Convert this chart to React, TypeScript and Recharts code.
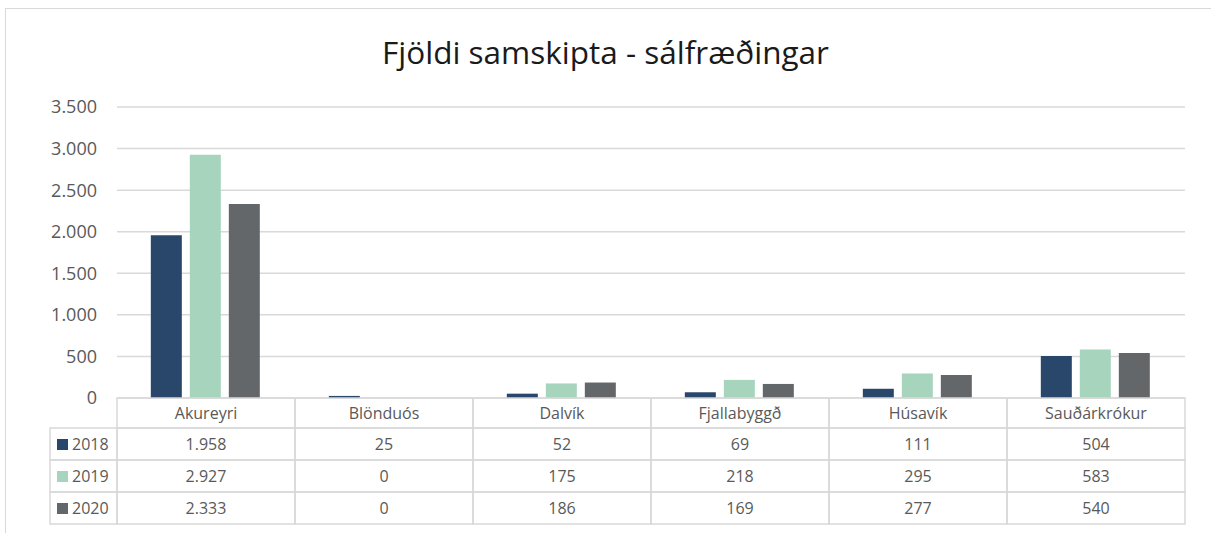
import { BarChart, Bar, XAxis, YAxis, CartesianGrid } from 'recharts'

const towns = ['Akureyri', 'Blönduós', 'Dalvík', 'Fjallabyggð', 'Húsavík', 'Sauðárkrókur']
const years = ['2018', '2019', '2020']
const values2018 = [1958, 25, 52, 69, 111, 504]
const values2019 = [2927, 0, 175, 218, 295, 583]
const values2020 = [2333, 0, 186, 169, 277, 540]
const yTicks = [0, 500, 1000, 1500, 2000, 2500, 3000, 3500]

const COLORS = ['#29466b', '#a7d4bd', '#63676a']
const FONT = '"Open Sans", Lato, sans-serif'
const GRID = '#d9d9d9'
const TEXT = '#595959'

const seriesValues = [values2018, values2019, values2020]
const data = towns.map((town, i) => ({
  town,
  y2018: values2018[i],
  y2019: values2019[i],
  y2020: values2020[i],
}))

const fmt = (v: number) => v.toLocaleString('de-DE')

const PLOT_LEFT = 117
const PLOT_RIGHT = 1185
const COL_W = (PLOT_RIGHT - PLOT_LEFT) / towns.length
const HEADER_H = 30
const ROW_H = 32
const LEGEND_LEFT = 50
const CELL_FONT = 16

function TableTick(props: any) {
  const { x, y, payload, index } = props
  const left = x - COL_W / 2
  const rows = seriesValues.map((vals, r) => {
    const top = y + HEADER_H + r * ROW_H
    return (
      <g key={r}>
        <rect x={left} y={top} width={COL_W} height={ROW_H} fill="none" stroke={GRID} strokeWidth={1.5} />
        <text x={x} y={top + ROW_H / 2 + 6} textAnchor="middle" fontSize={CELL_FONT} fill={TEXT} fontFamily={FONT}>
          {fmt(vals[index])}
        </text>
      </g>
    )
  })
  return (
    <g>
      <rect x={left} y={y} width={COL_W} height={HEADER_H} fill="none" stroke={GRID} strokeWidth={1.5} />
      <text x={x} y={y + HEADER_H / 2 + 6} textAnchor="middle" fontSize={CELL_FONT} fill={TEXT} fontFamily={FONT}>
        {payload.value}
      </text>
      {rows}
      {index === 0 &&
        years.map((yr, r) => {
          const top = y + HEADER_H + r * ROW_H
          return (
            <g key={yr}>
              <rect x={LEGEND_LEFT} y={top} width={left - LEGEND_LEFT} height={ROW_H} fill="none" stroke={GRID} strokeWidth={1.5} />
              <rect x={LEGEND_LEFT + 7} y={top + ROW_H / 2 - 5} width={11} height={11} fill={COLORS[r]} />
              <text x={LEGEND_LEFT + 22} y={top + ROW_H / 2 + 6} fontSize={CELL_FONT} fill={TEXT} fontFamily={FONT}>
                {yr}
              </text>
            </g>
          )
        })}
    </g>
  )
}

export default function App() {
  return (
    <div style={{ position: 'absolute', left: 0, top: 0, width: 1211, height: 533, background: '#fff' }}>
      <div
        style={{
          position: 'absolute',
          left: 5,
          top: 8,
          width: 1220,
          height: 560,
          border: `1px solid ${GRID}`,
        }}
      />
      <div
        style={{
          position: 'absolute',
          left: 0,
          top: 31,
          width: 1211,
          textAlign: 'center',
          fontFamily: FONT,
          fontSize: 31.5,
          lineHeight: '42px',
          color: '#1a1a1a',
        }}
      >
        Fjöldi samskipta - sálfræðingar
      </div>
      <div style={{ position: 'absolute', left: 0, top: 0 }}>
        <BarChart
          width={1211}
          height={533}
          data={data}
          margin={{ top: 107, right: 1211 - PLOT_RIGHT, left: PLOT_LEFT - 60, bottom: 0 }}
          barCategoryGap="19%"
          barGap={8}
        >
          <CartesianGrid vertical={false} stroke={GRID} strokeWidth={1.5} />
          <YAxis
            width={60}
            domain={[0, 3500]}
            ticks={yTicks}
            tickFormatter={fmt}
            axisLine={false}
            tickLine={false}
            tickSize={0}
            tickMargin={20}
            tick={{ fontSize: 18, fill: TEXT, fontFamily: FONT }}
          />
          <XAxis
            dataKey="town"
            height={135}
            axisLine={false}
            tickLine={false}
            tickSize={0}
            tickMargin={0}
            interval={0}
            tick={<TableTick />}
          />
          <Bar dataKey="y2018" name="2018" fill={COLORS[0]} isAnimationActive={false} />
          <Bar dataKey="y2019" name="2019" fill={COLORS[1]} isAnimationActive={false} />
          <Bar dataKey="y2020" name="2020" fill={COLORS[2]} isAnimationActive={false} />
        </BarChart>
      </div>
    </div>
  )
}
